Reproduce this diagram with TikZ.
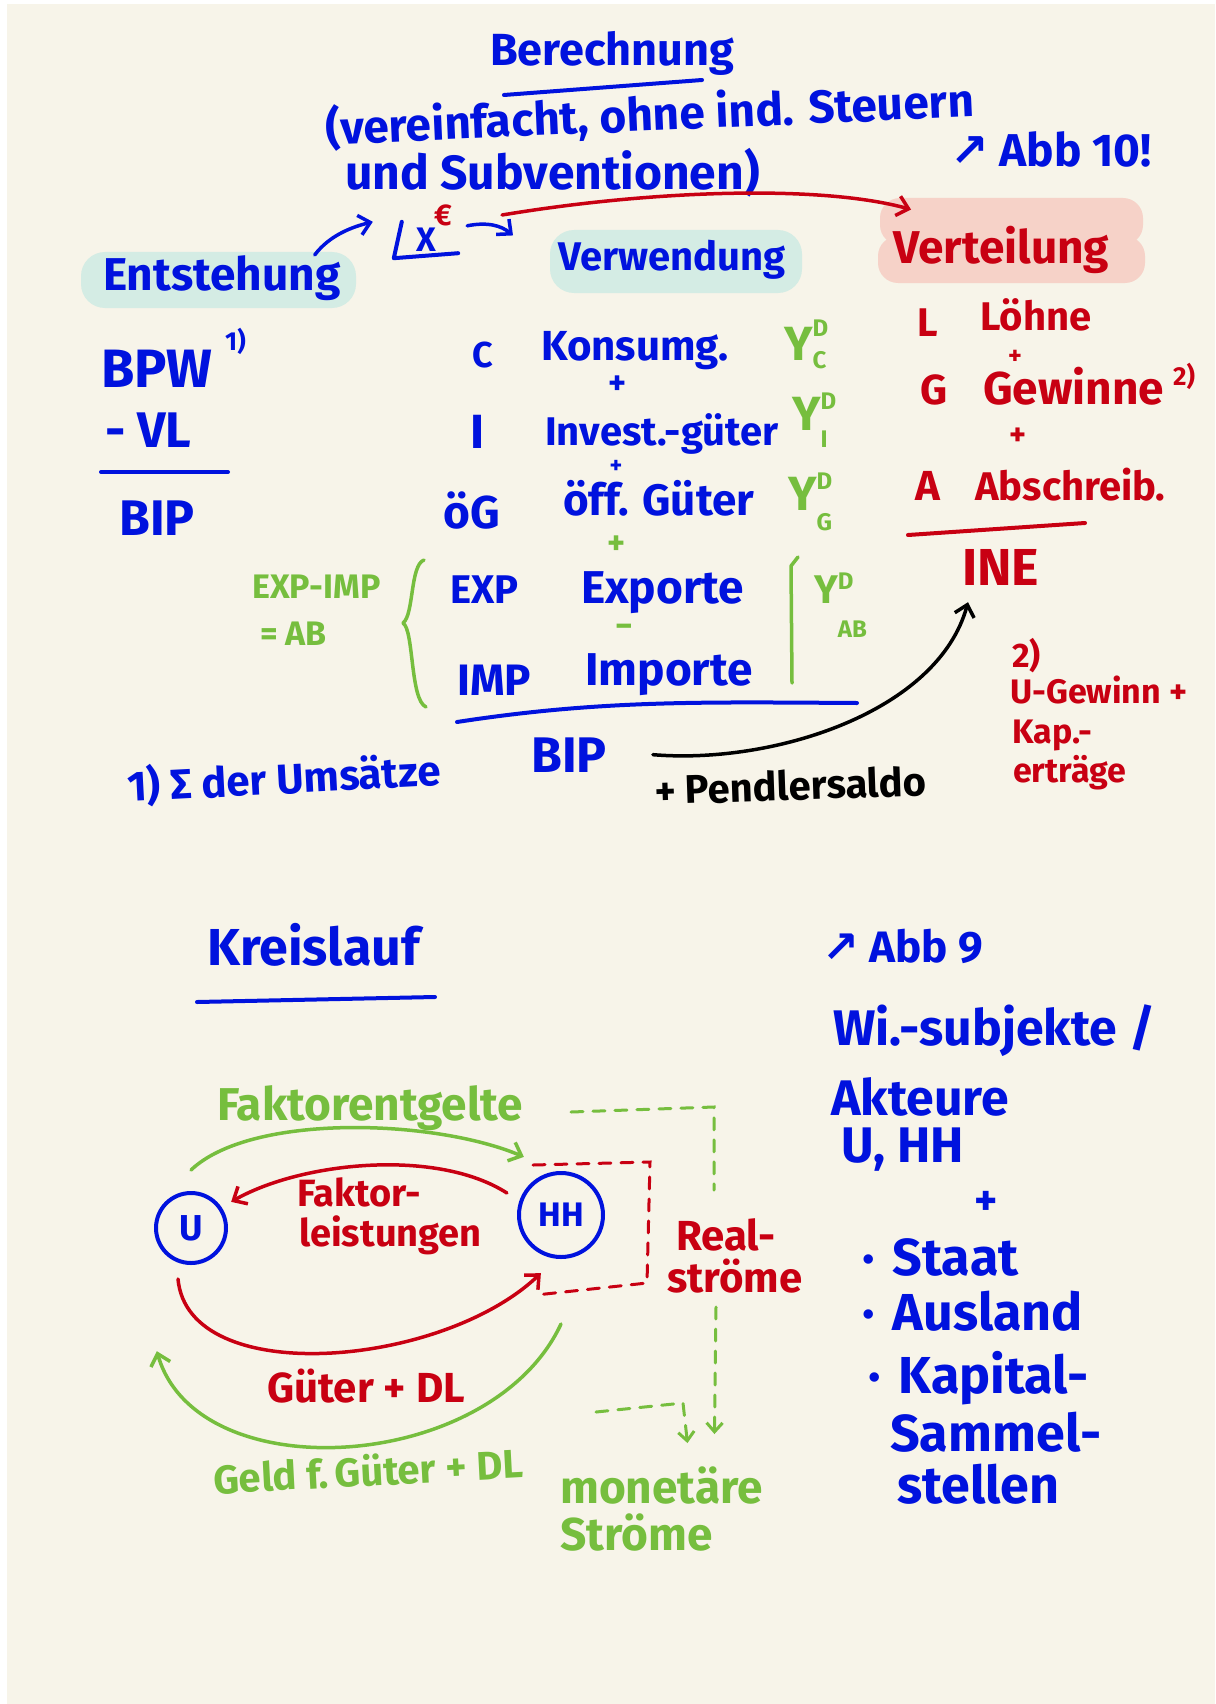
\documentclass[tikz,border=0pt]{standalone}
\usepackage{fontspec}
\setmainfont{Fira Sans}
\newfontfamily\symf{DejaVu Sans}
\usetikzlibrary{arrows.meta}
\definecolor{pblue}{RGB}{0,18,222}
\definecolor{pred}{RGB}{200,0,18}
\definecolor{pgreen}{RGB}{118,190,62}
\definecolor{hlteal}{RGB}{212,236,228}
\definecolor{hlpink}{RGB}{246,210,200}
\definecolor{paper}{RGB}{247,244,233}
\newcommand{\hw}[1]{\fontsize{#1}{#1}\selectfont\bfseries}
% Y^D with index: #1 index, #2 raise of D, #3 raise of index
\newcommand{\yd}[3]{Y{\fontsize{24}{24}\selectfont\rlap{\raisebox{#2}{D}}\raisebox{#3}{#1}}}

\begin{document}
\begin{tikzpicture}[x=1pt, y=-1pt,
  txt/.style={inner sep=0pt, anchor=base west, font=\hw{#1}}, txt/.default=42,
  blu/.style={text=pblue}, rd/.style={text=pred}, grn/.style={text=pgreen},
  pen/.style={line width=4pt, line cap=round, line join=round},
  arr/.style={pen, line width=3.5pt, -{Straight Barb[length=11pt,width=20pt]}},
  dsh/.style={line width=3pt, line cap=round, dash pattern=on 12pt off 10pt},
  agent/.style={circle, draw=pblue, pen, text=pblue, inner sep=0pt}]
\useasboundingbox (0,0) rectangle (1215,1704);
\fill[white] (0,0) rectangle (1215,1704);
\fill[paper] (7,4) rectangle (1215,1704);

%markers
\fill[hlteal, rounded corners=24pt] (81,252) rectangle (356,308);
\fill[hlteal, rounded corners=24pt] (550,230) rectangle (802,293);
\fill[hlpink, rounded corners=20pt] (880,198) rectangle (1143,245);
\fill[hlpink, rounded corners=20pt] (878,236) rectangle (1145,283);

%title
\node[txt=45, blu] (ber) at (490,66) {Berechnung};
\draw[pen, pblue] (504,95) -- (702,80);
\node[txt=46, blu, rotate=2.5] (verein) at (326,145) {(vereinfacht, ohne ind. Steuern};
\node[txt=48, blu] (subv) at (345,190) {und Subventionen)};
\node[txt=46, blu] (abb10) at (950,167) {{\symf ↗} Abb 10!};

%three views
\node[txt=46, blu] (ent) at (103,290) {Entstehung};
\node[txt=40, blu] (verw) at (558,270) {Verwendung};
\node[txt=46, rd] (vert) at (893,263) {Verteilung};

\node[txt=30, rd, anchor=center] (euro) at (443,215) {€};
\node[blu, font=\hw{34}, inner sep=0pt, minimum width=64pt, minimum height=36pt] (x) at (426,240) {X};
\draw[pen, pblue] ([xshift=8pt]x.north west) -- (x.south west) -- ([yshift=5pt]x.south east);

\draw[arr, pblue] ([xshift=-26pt]ent.north east) .. controls +(15,-20) and +(-20,5) .. ([xshift=-21pt]x.north west);
\draw[arr, pblue] ([xshift=9pt,yshift=-4pt]x.north east) .. controls +(20,-4) and +(-12,-10) .. ([shift={(-45pt,4pt)}]verw.north west);
\draw[arr, pred] ([xshift=50pt]euro.east) .. controls +(150,-25) and +(-90,-25) .. ([shift={(18pt,16pt)}]vert.north west);

%Entstehung
\node[txt=54, blu] (bpw) at (101,387) {BPW};
\node[txt=26, blu] (fnm1) at (225,350) {1)};
\node[txt=50, blu] (vl) at (105,447) {- VL};
\draw[pen, pblue] (101,472) -- (228,472);
\node[txt=50, blu] (bip1) at (119,535) {BIP};

%Verwendung
\node[txt=36, blu] (c) at (472,367) {C};
\node[txt=42, blu] (kons) at (541,360) {Konsumg.};
\node[txt=34, blu, anchor=center] (p1) at (618,385) {+};
\node[txt=48, blu] (i) at (470,448) {I};
\node[txt=40, blu] (inv) at (545,445) {Invest.-güter};
\node[txt=24, blu, anchor=center] (p2) at (616,467) {+};
\node[txt=46, blu] (og) at (443,528) {öG};
\node[txt=44, blu] (oeff) at (563,515) {öff. Güter};
\node[txt=34, grn, anchor=center] (p3) at (617,545) {+};
\node[txt=40, blu] (exp) at (450,603) {EXP};
\node[txt=46, blu] (expo) at (581,603) {Exporte};
\node[txt=34, grn, anchor=center] (m1) at (624,631) {−};
\node[txt=44, blu] (imp) at (457,695) {IMP};
\node[txt=46, blu] (impo) at (585,685) {Importe};

\draw[pen, pgreen, line width=3.5pt] (424,560) .. controls (410,565) and (414,615) .. (403,623) .. controls (414,630) and (410,700) .. (426,707);
\node[txt=34, grn] (expimp) at (252,598) {EXP-IMP};
\node[txt=34, grn] (ab) at (260,645) {= AB};
\draw[pen, pgreen, line width=3.5pt] (798,557) -- (791,566) -- (792,683);

\node[txt=48, grn] (ydc) at (784,360) {\yd{C}{24pt}{-8pt}};
\node[txt=48, grn] (ydi) at (792,430) {\yd{I}{21pt}{-17pt}};
\node[txt=48, grn] (ydg) at (788,510) {\yd{G}{21pt}{-20pt}};
\node[txt=40, grn] (ydab) at (814,603) {\yd{AB}{14pt}{-34pt}};

\draw[pen, pblue] (457,722) .. controls (600,700) and (700,702) .. (857,703);
\node[txt=50, blu] (bip2) at (531,772) {BIP};
\node[txt=42, blu, rotate=3] (fn1) at (128,802) {1) Σ der Umsätze};
\node[txt=40, rotate=2] (pendl) at (655,805) {+ Pendlersaldo};

%Verteilung
\node[txt=40, rd] (l) at (917,336) {L};
\node[txt=40, rd] (loehne) at (980,330) {Löhne};
\node[txt=26, rd, anchor=center] (p4) at (1015,357) {+};
\node[txt=42, rd] (g) at (920,404) {G};
\node[txt=46, rd] (gewinne) at (983,404) {Gewinne};
\node[txt=26, rd] (fnm2) at (1173,385) {2)};
\node[txt=32, rd, anchor=center] (p5) at (1018,437) {+};
\node[txt=42, rd] (a) at (915,500) {A};
\node[txt=40, rd] (absch) at (975,500) {Abschreib.};
\draw[pen, pred] (908,535) -- (1085,523);
\node[txt=52, rd] (ine) at (962,585) {INE};
\node[txt=34, rd] (fn2) at (1012,667) {2)};
\node[txt=34, rd] (fn2a) at (1010,703) {U-Gewinn +};
\node[txt=34, rd] (fn2b) at (1012,743) {Kap.-};
\node[txt=34, rd] (fn2c) at (1013,782) {erträge};

\draw[arr, black] ([xshift=46pt]bip2.east) .. controls +(120,10) and +(-30,110) .. ([shift={(6pt,-17pt)}]ine.south west);

%Kreislauf
\node[txt=52, blu] (kreis) at (207,965) {Kreislauf};
\draw[pen, pblue] (197,1002) -- (435,997);
\node[txt=44, blu] (abb9) at (822,962) {{\symf ↗} Abb 9};
\node[txt=50, blu] (wisub) at (833,1045) {Wi.-subjekte /};
\node[txt=50, blu] (akt) at (831,1115) {Akteure};
\node[txt=50, blu] (uhh) at (841,1162) {U, HH};
\node[txt=44, blu, anchor=center] (p6) at (986,1203) {+};
\node[txt=52, blu] (staat) at (862,1275) {·\hspace{18pt}Staat};
\node[txt=52, blu] (ausl) at (862,1330) {·\hspace{18pt}Ausland};
\node[txt=52, blu] (kap) at (868,1393) {·\hspace{18pt}Kapital-};
\node[txt=52, blu] (samm) at (890,1451) {Sammel-};
\node[txt=52, blu] (stell) at (897,1503) {stellen};

\node[agent, font=\hw{36}, minimum size=70pt] (u) at (191,1228) {U};
\node[agent, font=\hw{34}, minimum size=84pt] (hh) at (561,1215) {HH};

\node[txt=46, grn] (fentg) at (217,1120) {Faktorentgelte};
\node[txt=38, rd] (fl1) at (297,1206) {Faktor-};
\node[txt=38, rd] (fl2) at (299,1246) {leistungen};
\node[txt=42, rd] (real1) at (676,1250) {Real-};
\node[txt=42, rd] (real2) at (667,1292) {ströme};
\node[txt=42, rd] (gdl) at (267,1402) {Güter + DL};
\node[txt=40, grn, rotate=3] (geld) at (214,1494) {Geld f.\,Güter + DL};
\node[txt=46, grn] (mon1) at (560,1503) {monetäre};
\node[txt=46, grn] (mon2) at (560,1550) {Ströme};

\draw[arr, pgreen] ([yshift=21pt]u.north) .. controls +(60,-57) and +(-90,-38) .. ([shift={(-6pt,27pt)}]hh.north west);
\draw[arr, pred] ([xshift=-16pt]hh.150) .. controls +(-70,-45) and +(70,-40) .. ([xshift=14pt]u.45);
\draw[arr, pred] ([shift={(-13pt,-14pt)}]u.south) .. controls +(10,110) and +(-100,95) .. ([shift={(11pt,-27pt)}]hh.south west);
\draw[arr, pgreen] ([yshift=-65pt]hh.south) .. controls +(-70,150) and +(40,140) .. ([shift={(-8pt,-97pt)}]u.south west);

%dashed brackets
\draw[dsh, pred] (533,1165) -- (650,1162) -- (647,1283) -- (536,1295);
\draw[dsh, pgreen] (571,1112) -- (714,1107) -- (714,1190);
\draw[dsh, pgreen, -{Straight Barb[length=9pt,width=16pt]}] (716,1307) -- ([shift={(53pt,32pt)}]mon1.north);
\draw[dsh, pgreen, -{Straight Barb[length=9pt,width=16pt]}] (596,1412) -- (683,1403) -- ([shift={(26pt,23pt)}]mon1.north);

\end{tikzpicture}
\end{document}
